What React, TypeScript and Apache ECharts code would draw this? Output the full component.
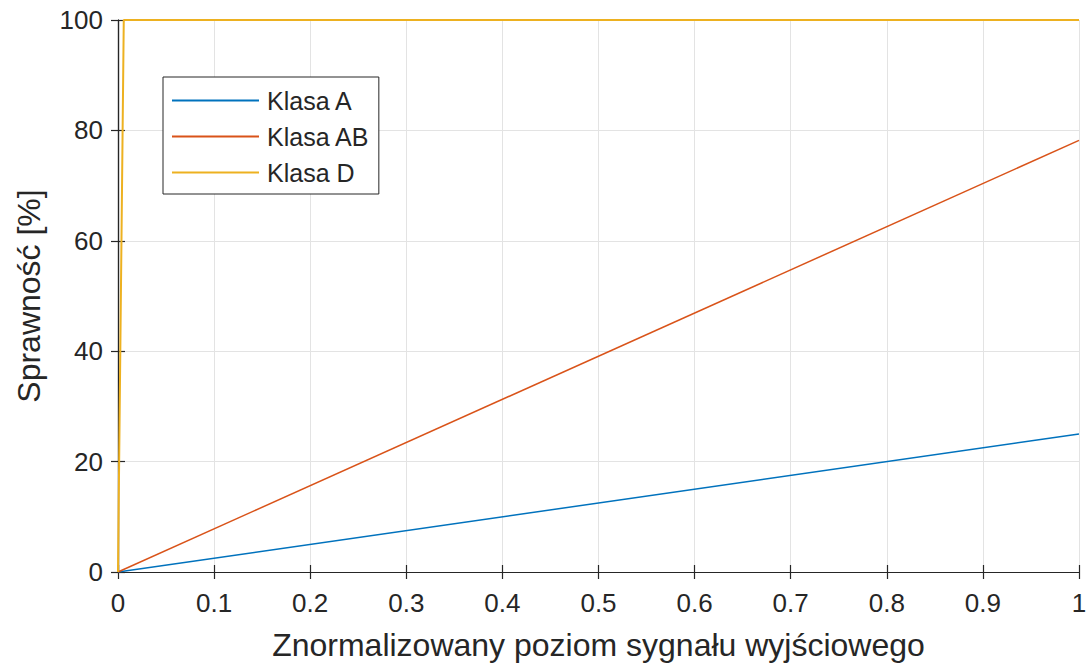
import React, { useEffect, useRef } from "react";
import * as echarts from "echarts";

const seriesNames = ["Klasa A", "Klasa AB", "Klasa D"];
const colors = ["#0072BD", "#D95319", "#EDB120"];
const klasaA: [number, number][] = [[0, 0], [1, 25]];
const klasaAB: [number, number][] = [[0, 0], [1, 78.2]];
const klasaD: [number, number][] = [[0, 0], [0.006, 100], [1, 100]];
const xTitle = "Znormalizowany poziom sygnału wyjściowego";
const yTitle = "Sprawność [%]";

const FONT = "'Liberation Sans', Arial, sans-serif";
const AXIS = "#262626";

export default function App() {
  const ref = useRef<HTMLDivElement>(null);
  useEffect(() => {
    if (!ref.current) return;
    const chart = echarts.init(ref.current, undefined, { renderer: "svg" });
    const axisLine = { show: true, lineStyle: { color: AXIS, width: 1.2 } };
    const tick = { show: true, inside: true, length: 7, lineStyle: { color: AXIS, width: 1.2 } };
    chart.setOption({
      animation: false,
      backgroundColor: "#ffffff",
      grid: { left: 118, right: 12, top: 20, bottom: 94, containLabel: false },
      legend: {
        data: seriesNames,
        orient: "vertical",
        left: 163,
        top: 77,
        icon: "rect",
        itemWidth: 87,
        itemHeight: 2,
        itemGap: 11,
        padding: [11, 9, 9, 9],
        borderColor: "#262626",
        borderWidth: 1,
        backgroundColor: "#ffffff",
        textStyle: { fontFamily: FONT, fontSize: 25, color: "#262626", padding: [0, 0, 0, 3] },
      },
      xAxis: [
        {
          type: "value",
          min: 0,
          max: 1,
          interval: 0.1,
          position: "bottom",
          axisLine,
          axisTick: tick,
          axisLabel: { fontFamily: FONT, fontSize: 26, color: "#262626", margin: 18 },
          splitLine: { show: true, lineStyle: { color: "#e3e3e3", width: 1 } },
          name: xTitle,
          nameLocation: "middle",
          nameGap: 57,
          nameTextStyle: { fontFamily: FONT, fontSize: 32, color: "#262626" },
        },
        {
          type: "value",
          min: 0,
          max: 1,
          interval: 0.1,
          position: "top",
          axisLine,
          axisTick: tick,
          axisLabel: { show: false },
          splitLine: { show: false },
        },
      ],
      yAxis: [
        {
          type: "value",
          min: 0,
          max: 100,
          interval: 20,
          position: "left",
          axisLine,
          axisTick: tick,
          axisLabel: { fontFamily: FONT, fontSize: 26, color: "#262626", margin: 15 },
          splitLine: { show: true, lineStyle: { color: "#e3e3e3", width: 1 } },
          name: yTitle,
          nameLocation: "middle",
          nameGap: 73,
          nameTextStyle: { fontFamily: FONT, fontSize: 32, color: "#262626" },
        },
        {
          type: "value",
          min: 0,
          max: 100,
          interval: 20,
          position: "right",
          axisLine,
          axisTick: tick,
          axisLabel: { show: false },
          splitLine: { show: false },
        },
      ],
      series: [
        { name: seriesNames[0], type: "line", data: klasaA, showSymbol: false, lineStyle: { color: colors[0], width: 1.5 }, itemStyle: { color: colors[0] } },
        { name: seriesNames[1], type: "line", data: klasaAB, showSymbol: false, lineStyle: { color: colors[1], width: 1.5 }, itemStyle: { color: colors[1] } },
        { name: seriesNames[2], type: "line", data: klasaD, showSymbol: false, lineStyle: { color: colors[2], width: 2 }, itemStyle: { color: colors[2] } },
      ],
    });
    return () => chart.dispose();
  }, []);
  return (
    <div
      ref={ref}
      style={{ position: "fixed", left: 0, top: 0, width: 1091, height: 666, background: "#fff" }}
    />
  );
}
